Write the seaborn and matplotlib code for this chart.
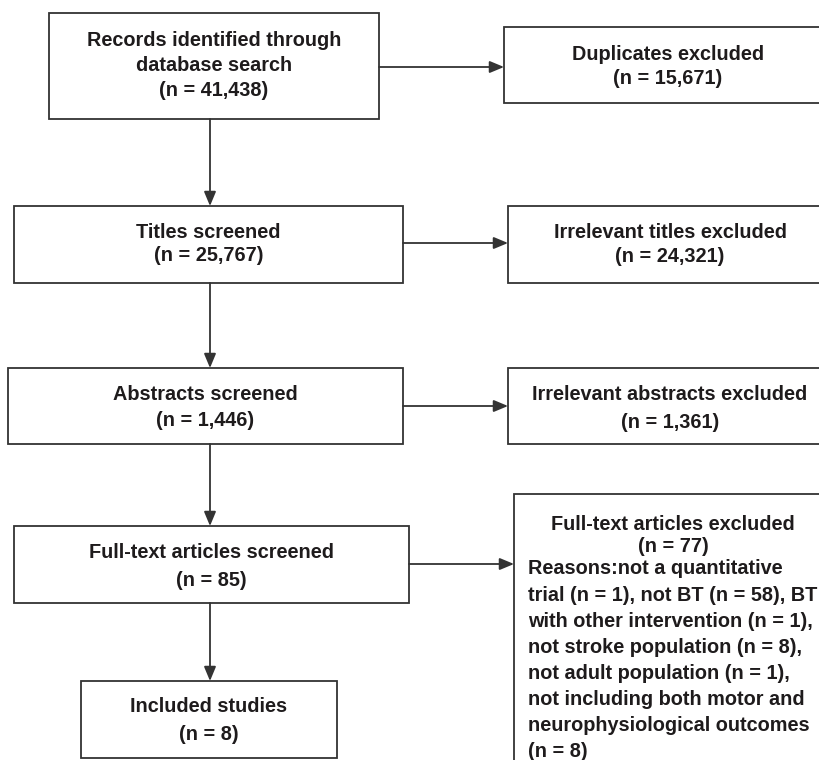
import matplotlib
matplotlib.use("Agg")
import matplotlib.pyplot as plt
from matplotlib.patches import Rectangle
import seaborn as sns

# Flow diagram content
stage_labels = ["Records identified through\ndatabase search", "Titles screened",
                "Abstracts screened", "Full-text articles screened", "Included studies"]
stage_counts = [41438, 25767, 1446, 85, 8]

excluded_labels = ["Duplicates excluded", "Irrelevant titles excluded",
                   "Irrelevant abstracts excluded", "Full-text articles excluded"]
excluded_counts = [15671, 24321, 1361, 77]

reason_lines = ["Reasons:not a quantitative",
                "trial (n = 1), not BT (n = 58), BT",
                "with other intervention (n = 1),",
                "not stroke population (n = 8),",
                "not adult population (n = 1),",
                "not including both motor and",
                "neurophysiological outcomes",
                "(n = 8)"]

# Layout in pixel units (x0, x1, y0, y1), first text line y, line gap
left_boxes = [(49, 379, 13, 119), (14, 403, 206, 283), (8, 403, 368, 444),
              (14, 409, 526, 603), (81, 337, 681, 758)]
left_text = [(39, 24.5), (230, 23.5), (393, 26), (550, 29), (705, 28)]
right_boxes = [(504, 835, 27, 103), (508, 835, 206, 283), (508, 835, 368, 444),
               (514, 835, 494, 800)]
right_text = [(52, 25), (230, 25), (393, 27)]
link_y = [67, 243, 406, 564]
spine_x = 210

sns.set_theme(style="white")
plt.rcParams["font.family"] = ["Liberation Sans", "DejaVu Sans"]

TXT = "#1e1b1c"
EDGE = "#333333"
FS = 14.3

fig = plt.figure(figsize=(8.19, 7.6), dpi=100)
ax = fig.add_axes([0, 0, 1, 1])
ax.set_xlim(0, 819)
ax.set_ylim(760, 0)
ax.axis("off")


def draw_box(b):
    x0, x1, y0, y1 = b
    ax.add_patch(Rectangle((x0, y0), x1 - x0, y1 - y0, facecolor="white",
                           edgecolor=EDGE, lw=1.3, zorder=2))


def box_text(b, lines, y_first, gap):
    x0, x1 = b[0], b[1]
    cx = (x0 + min(x1, 832)) / 2
    for i, t in enumerate(lines):
        ax.text(cx, y_first + i * gap, t, ha="center", va="center_baseline",
                fontsize=FS, fontweight="bold", color=TXT, zorder=3)


def arrow(p0, p1):
    ax.annotate("", xy=p1, xytext=p0,
                arrowprops=dict(arrowstyle="-|>,head_length=0.6,head_width=0.25",
                                mutation_scale=14.4, lw=1.3, color=EDGE,
                                shrinkA=0, shrinkB=0), zorder=4)


for b, (y1st, gap), lab, n in zip(left_boxes, left_text, stage_labels, stage_counts):
    draw_box(b)
    box_text(b, lab.split("\n") + [f"(n = {n:,})"], y1st, gap)

for b, (y1st, gap), lab, n in zip(right_boxes[:3], right_text,
                                   excluded_labels[:3], excluded_counts[:3]):
    draw_box(b)
    box_text(b, [lab, f"(n = {n:,})"], y1st, gap)

# full-text exclusion box with reasons
fb = right_boxes[3]
draw_box(fb)
box_text(fb, [excluded_labels[3], f"(n = {excluded_counts[3]})"], 523, 21)
for i, line in enumerate(reason_lines):
    ax.text(528, 567 + i * 26.1, line, ha="left", va="center_baseline", fontsize=FS,
            fontweight="bold", color=TXT, zorder=3)

# vertical arrows down the main flow
for top, bot in zip(left_boxes[:-1], left_boxes[1:]):
    arrow((spine_x, top[3]), (spine_x, bot[2]))

# horizontal arrows to exclusion boxes
for lb, rb, y in zip(left_boxes[:4], right_boxes, link_y):
    arrow((lb[1], y), (rb[0], y))

fig.savefig("out.png", dpi=100, facecolor="white")
